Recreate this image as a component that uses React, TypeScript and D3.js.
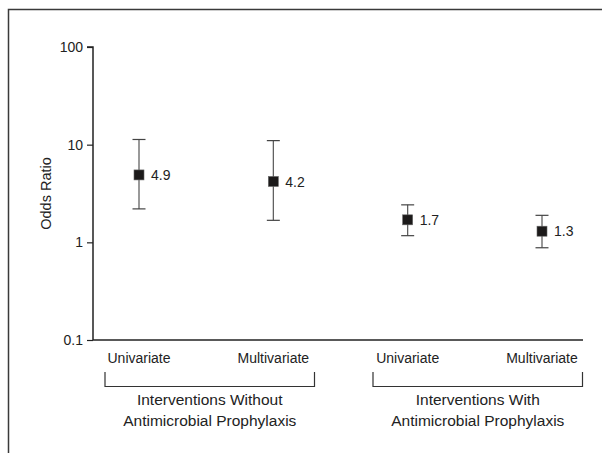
import { useRef, useEffect } from 'react';
import * as d3 from 'd3';

const categories = ["Univariate", "Multivariate", "Univariate", "Multivariate"];
const oddsRatios = [4.9, 4.2, 1.7, 1.3];
const lowerCI = [2.2, 1.68, 1.17, 0.88];
const upperCI = [11.3, 11.0, 2.42, 1.89];
const groupLabels = [
  ["Interventions Without", "Antimicrobial Prophylaxis"],
  ["Interventions With", "Antimicrobial Prophylaxis"],
];
const yTicks = [0.1, 1, 10, 100];

const FONT = "'Liberation Sans', Arial, Helvetica, sans-serif";

function OddsChart() {
  const svgRef = useRef<SVGSVGElement>(null);

  useEffect(() => {
    const svg = d3.select(svgRef.current);
    svg.selectAll("*").remove();

    const W = 602, H = 453;
    svg.attr("width", W).attr("height", H);

    // outer frame (clipped at right / bottom)
    svg.append("path")
      .attr("d", `M8.5,${H}V9.5H${W}`)
      .attr("fill", "none").attr("stroke", "#3a3a3a").attr("stroke-width", 1.5);

    const left = 93, right = 583, top = 47, bottom = 340;

    const y = d3.scaleLog().domain([0.1, 100]).range([bottom, top]);
    const x = d3.scaleLinear().domain([0, categories.length - 1]).range([139, 542]);

    const g = svg.append("g").style("font-family", FONT);

    // y axis
    const yAxis = g.append("g")
      .attr("transform", `translate(${left},0)`)
      .call(d3.axisLeft(y).tickValues(yTicks).tickFormat(d3.format("~g")).tickSize(6).tickPadding(4));
    yAxis.attr("font-family", null).attr("font-size", null);
    yAxis.select(".domain").attr("stroke", "#222").attr("stroke-width", 1.5)
      .attr("d", `M-6,${top}H0V${bottom}`);
    yAxis.selectAll(".tick line").attr("stroke", "#222").attr("stroke-width", 1.2);
    yAxis.selectAll(".tick text")
      .style("font-family", FONT).style("font-size", "14px").attr("fill", "#222");

    // x axis line
    g.append("line")
      .attr("x1", left).attr("x2", right).attr("y1", bottom).attr("y2", bottom)
      .attr("stroke", "#222").attr("stroke-width", 1.5);

    // y label
    g.append("text")
      .attr("transform", `translate(51,${(top + bottom) / 2}) rotate(-90)`)
      .attr("text-anchor", "middle")
      .style("font-size", "14.5px").attr("fill", "#222")
      .text("Odds Ratio");

    // category labels
    g.selectAll("text.cat")
      .data(categories)
      .enter().append("text")
      .attr("class", "cat")
      .attr("x", (d, i) => x(i))
      .attr("y", 363)
      .attr("text-anchor", "middle")
      .style("font-size", "14px").attr("fill", "#222")
      .text(d => d);

    // group brackets
    const brackets = [[105, 314.5], [373, 582.5]];
    brackets.forEach(([bx0, bx1], gi) => {
      g.append("path")
        .attr("d", `M${bx0},372V386.5H${bx1}V372`)
        .attr("fill", "none").attr("stroke", "#333").attr("stroke-width", 1.2);
      const cx = (bx0 + bx1) / 2;
      groupLabels[gi].forEach((line, li) => {
        g.append("text")
          .attr("x", cx).attr("y", 405 + li * 21)
          .attr("text-anchor", "middle")
          .style("font-size", "15.5px").attr("fill", "#222")
          .text(line);
      });
    });

    // error bars
    const cap = 6.5;
    const bars = g.selectAll("g.pt")
      .data(oddsRatios)
      .enter().append("g").attr("class", "pt");

    bars.append("line")
      .attr("x1", (d, i) => x(i)).attr("x2", (d, i) => x(i))
      .attr("y1", (d, i) => y(upperCI[i])).attr("y2", (d, i) => y(lowerCI[i]))
      .attr("stroke", "#555").attr("stroke-width", 1.2);
    bars.append("line")
      .attr("x1", (d, i) => x(i) - cap).attr("x2", (d, i) => x(i) + cap)
      .attr("y1", (d, i) => y(upperCI[i])).attr("y2", (d, i) => y(upperCI[i]))
      .attr("stroke", "#444").attr("stroke-width", 1.2);
    bars.append("line")
      .attr("x1", (d, i) => x(i) - cap).attr("x2", (d, i) => x(i) + cap)
      .attr("y1", (d, i) => y(lowerCI[i])).attr("y2", (d, i) => y(lowerCI[i]))
      .attr("stroke", "#444").attr("stroke-width", 1.2);
    bars.append("rect")
      .attr("x", (d, i) => x(i) - 5).attr("y", d => y(d) - 5)
      .attr("width", 10).attr("height", 10)
      .attr("fill", "#1c1a1a").attr("stroke", "#666").attr("stroke-width", 0.6);
    bars.append("text")
      .attr("x", (d, i) => x(i) + 12).attr("y", d => y(d))
      .attr("dy", "0.36em")
      .style("font-size", "14px").attr("fill", "#222")
      .text(d => d.toFixed(1));
  }, []);

  return <svg ref={svgRef}></svg>;
}

export default function App() {
  return (
    <div style={{ position: "absolute", left: 0, top: 0, background: "#fff" }}>
      <OddsChart />
    </div>
  );
}
